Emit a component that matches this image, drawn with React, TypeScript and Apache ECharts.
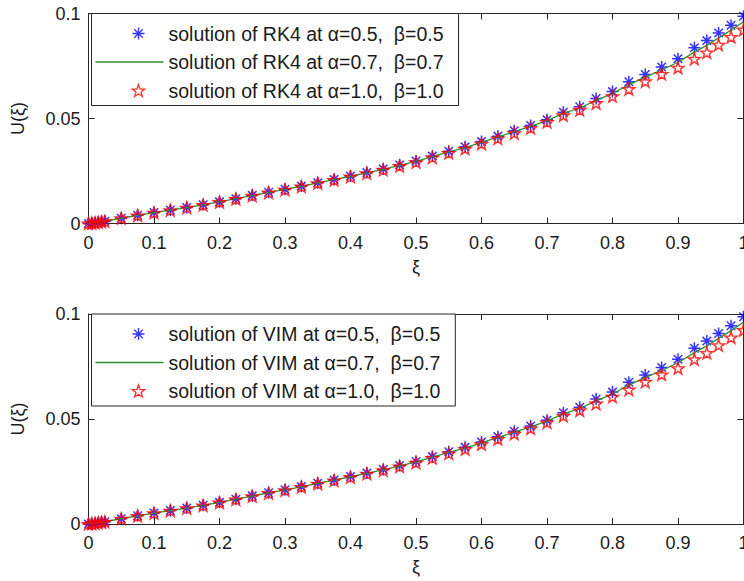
import React, { useEffect, useRef } from "react";
import * as echarts from "echarts";

// ---------- data ----------
const xiValues = [
  0, 0.005, 0.01, 0.015, 0.02, 0.025, 0.05, 0.075, 0.1, 0.125, 0.15, 0.175, 0.2,
  0.225, 0.25, 0.275, 0.3, 0.325, 0.35, 0.375, 0.4, 0.425, 0.45, 0.475, 0.5,
  0.525, 0.55, 0.575, 0.6, 0.625, 0.65, 0.675, 0.7, 0.725, 0.75, 0.775, 0.8,
  0.825, 0.85, 0.875, 0.9, 0.925, 0.944, 0.962, 0.981, 1.0,
];

const rk4Alpha05 = [
  0, 0.0002, 0.0004, 0.0006, 0.0008, 0.0011, 0.0025, 0.0039, 0.0052, 0.0064,
  0.0076, 0.0089, 0.0103, 0.0118, 0.0134, 0.0149, 0.0163, 0.0178, 0.0194,
  0.021, 0.0226, 0.0243, 0.026, 0.0279, 0.0298, 0.0321, 0.0344, 0.0365, 0.039,
  0.0416, 0.0442, 0.0467, 0.0494, 0.053, 0.0556, 0.0595, 0.0628, 0.0675, 0.071,
  0.0745, 0.0785, 0.0837, 0.0871, 0.0907, 0.0944, 0.0987,
];
const rk4Alpha07 = [
  0, 0.0002, 0.0004, 0.0006, 0.0008, 0.0011, 0.0025, 0.0039, 0.0052, 0.0064,
  0.0076, 0.0089, 0.0103, 0.0118, 0.0133, 0.0148, 0.0162, 0.0177, 0.0193,
  0.0209, 0.0225, 0.0241, 0.0258, 0.0277, 0.0296, 0.0318, 0.0341, 0.0361,
  0.0386, 0.0412, 0.0437, 0.0462, 0.049, 0.0524, 0.055, 0.0586, 0.0619, 0.0661,
  0.0697, 0.0731, 0.0768, 0.0816, 0.0848, 0.0884, 0.0921, 0.0961,
];
const rk4Alpha10 = [
  0, 0.0002, 0.0004, 0.0006, 0.0008, 0.0011, 0.0025, 0.0038, 0.0051, 0.0063,
  0.0075, 0.0088, 0.0102, 0.0117, 0.0132, 0.0147, 0.0161, 0.0176, 0.0192,
  0.0207, 0.0223, 0.0239, 0.0256, 0.0274, 0.0292, 0.0314, 0.0336, 0.0356,
  0.038, 0.0405, 0.043, 0.0455, 0.0483, 0.0515, 0.0541, 0.0573, 0.0606, 0.064,
  0.0677, 0.0712, 0.0742, 0.0784, 0.0814, 0.0851, 0.0888, 0.0923,
];

const vimAlpha05 = [
  0, 0.0002, 0.0004, 0.0006, 0.0008, 0.0011, 0.0025, 0.0039, 0.0052, 0.0064,
  0.0076, 0.0089, 0.0103, 0.0118, 0.0134, 0.0149, 0.0163, 0.0178, 0.0194,
  0.021, 0.0226, 0.0243, 0.026, 0.0279, 0.0298, 0.0321, 0.0344, 0.0365, 0.039,
  0.0416, 0.0442, 0.0467, 0.0494, 0.053, 0.0556, 0.0595, 0.0628, 0.0675, 0.071,
  0.0745, 0.0785, 0.0837, 0.0871, 0.0907, 0.0944, 0.0987,
];
const vimAlpha07 = [
  0, 0.0002, 0.0004, 0.0006, 0.0008, 0.0011, 0.0025, 0.0039, 0.0052, 0.0064,
  0.0076, 0.0089, 0.0103, 0.0118, 0.0133, 0.0148, 0.0162, 0.0177, 0.0193,
  0.0209, 0.0225, 0.0241, 0.0258, 0.0277, 0.0296, 0.0318, 0.0341, 0.0361,
  0.0386, 0.0412, 0.0437, 0.0462, 0.049, 0.0524, 0.055, 0.0586, 0.0619, 0.0661,
  0.0697, 0.0731, 0.0768, 0.0816, 0.0848, 0.0884, 0.0921, 0.0961,
];
const vimAlpha10 = [
  0, 0.0002, 0.0004, 0.0006, 0.0008, 0.0011, 0.0025, 0.0038, 0.0051, 0.0063,
  0.0075, 0.0088, 0.0102, 0.0117, 0.0132, 0.0147, 0.0161, 0.0176, 0.0192,
  0.0207, 0.0223, 0.0239, 0.0256, 0.0274, 0.0292, 0.0314, 0.0336, 0.0356,
  0.038, 0.0405, 0.043, 0.0455, 0.0483, 0.0515, 0.0541, 0.0573, 0.0606, 0.064,
  0.0677, 0.0712, 0.0742, 0.0784, 0.0814, 0.0851, 0.0888, 0.0923,
];

const rk4Names = [
  "solution of RK4 at α=0.5,  β=0.5",
  "solution of RK4 at α=0.7,  β=0.7",
  "solution of RK4 at α=1.0,  β=1.0",
];
const vimNames = [
  "solution of VIM at α=0.5,  β=0.5",
  "solution of VIM at α=0.7,  β=0.7",
  "solution of VIM at α=1.0,  β=1.0",
];

const xAxisName = "ξ";
const yAxisName = "U(ξ)";

// ---------- styling ----------
const FONT = '"Liberation Sans", Arial, Helvetica, sans-serif';
const AXIS_COLOR = "#262626";
const TEXT_COLOR = "#1a1a1a";
const BLUE = "#0000ff";
const GREEN = "#2f8f2f";
const RED = "#ff0000";
const FONT_SIZE = 18;
const LEGEND_FONT_SIZE = 19.5;

const ASTERISK = "M0,-10L0,10M-10,0L10,0M-7.07,-7.07L7.07,7.07M-7.07,7.07L7.07,-7.07";
const STAR =
  "M0,-10L2.351,-3.236L9.511,-3.09L3.804,1.236L5.878,8.09L0,4L-5.878,8.09L-3.804,1.236L-9.511,-3.09L-2.351,-3.236Z";
// legend icons: marker shifted right of the sample-line centre as in the reference
const ASTERISK_LEGEND = "M-40,0L-40,0" + ASTERISK;
const STAR_LEGEND = "M-36.66,0L-36.66,0" + STAR;
const LINE_LEGEND = "M0,0L68,0L68,1.3L0,1.3Z";

const pairs = (ys: number[]) => xiValues.map((x, i) => [x, ys[i]]);

function axesFor(gridIndex: number) {
  const common = {
    gridIndex,
    type: "value" as const,
    axisLine: { show: true, onZero: false, lineStyle: { color: AXIS_COLOR, width: 1 } },
    axisTick: { show: true, inside: true, length: 6, lineStyle: { color: AXIS_COLOR } },
    splitLine: { show: false },
  };
  const xAxes = [
    {
      ...common,
      position: "bottom",
      min: 0,
      max: 1,
      interval: 0.1,
      name: xAxisName,
      nameLocation: "middle",
      nameGap: 34,
      nameTextStyle: { fontFamily: FONT, fontSize: FONT_SIZE, color: TEXT_COLOR },
      axisLabel: {
        show: true,
        margin: 10,
        fontFamily: FONT,
        fontSize: FONT_SIZE,
        color: TEXT_COLOR,
        showMaxLabel: true,
        hideOverlap: false,
      },
    },
    {
      ...common,
      position: "top",
      min: 0,
      max: 1,
      interval: 0.1,
      axisLabel: { show: false },
    },
  ];
  const yAxes = [
    {
      ...common,
      position: "left",
      min: 0,
      max: 0.1,
      interval: 0.05,
      name: yAxisName,
      nameLocation: "middle",
      nameRotate: 90,
      nameGap: 62,
      nameTextStyle: { fontFamily: FONT, fontSize: FONT_SIZE, color: TEXT_COLOR },
      axisLabel: {
        show: true,
        margin: 8,
        fontFamily: FONT,
        fontSize: FONT_SIZE,
        color: TEXT_COLOR,
      },
    },
    {
      ...common,
      position: "right",
      min: 0,
      max: 0.1,
      interval: 0.05,
      axisLabel: { show: false },
    },
  ];
  return { xAxes, yAxes };
}

function seriesFor(
  names: string[],
  a05: number[],
  a07: number[],
  a10: number[],
  axisIndex: number
) {
  return [
    {
      type: "scatter",
      name: names[0],
      xAxisIndex: axisIndex,
      yAxisIndex: axisIndex,
      data: pairs(a05),
      symbol: "path://" + ASTERISK,
      symbolSize: 12,
      symbolKeepAspect: true,
      itemStyle: { color: "rgba(0,0,0,0)", borderColor: BLUE, borderWidth: 1.5 },
      z: 2,
    },
    {
      type: "line",
      name: names[1],
      xAxisIndex: axisIndex,
      yAxisIndex: axisIndex,
      data: pairs(a07),
      symbol: "none",
      showSymbol: false,
      symbolKeepAspect: true,
      lineStyle: { color: GREEN, width: 1.3 },
      itemStyle: { color: GREEN },
      z: 3,
    },
    {
      type: "scatter",
      name: names[2],
      xAxisIndex: axisIndex,
      yAxisIndex: axisIndex,
      data: pairs(a10),
      symbol: "path://" + STAR,
      symbolSize: 12,
      symbolKeepAspect: true,
      itemStyle: { color: "rgba(0,0,0,0)", borderColor: RED, borderWidth: 1.5 },
      z: 4,
    },
  ];
}

function legendFor(names: string[], top: number) {
  return {
    orient: "vertical",
    left: 91.5,
    top,
    selectedMode: false,
    backgroundColor: "#ffffff",
    borderColor: AXIS_COLOR,
    borderWidth: 1,
    borderRadius: 0,
    padding: [10, 15, 5, 4],
    itemGap: 8.5,
    itemWidth: 68,
    itemHeight: 12,
    textStyle: { fontFamily: FONT, fontSize: LEGEND_FONT_SIZE, color: TEXT_COLOR },
    z: 10,
    data: [
      {
        name: names[0],
        icon: "path://" + ASTERISK_LEGEND,
        itemStyle: { color: "rgba(0,0,0,0)", borderColor: BLUE, borderWidth: 1.3 },
      },
      {
        name: names[1],
        icon: "path://" + LINE_LEGEND,
        itemStyle: { color: GREEN, borderWidth: 0 },
      },
      {
        name: names[2],
        icon: "path://" + STAR_LEGEND,
        itemStyle: { color: "rgba(0,0,0,0)", borderColor: RED, borderWidth: 1.3 },
      },
    ],
  };
}

export default function App() {
  const ref = useRef<HTMLDivElement>(null);

  useEffect(() => {
    if (!ref.current) return;
    const chart = echarts.init(ref.current, undefined, { renderer: "svg" });
    const top = axesFor(0);
    const bottom = axesFor(1);
    const option = {
      animation: false,
      backgroundColor: "#ffffff",
      textStyle: { fontFamily: FONT },
      grid: [
        {
          left: 88.5,
          top: 13.5,
          width: 655,
          height: 210,
          containLabel: false,
          outerBoundsMode: "none",
        },
        {
          left: 88.5,
          top: 314,
          width: 655,
          height: 210,
          containLabel: false,
          outerBoundsMode: "none",
        },
      ],
      xAxis: [...top.xAxes, ...bottom.xAxes],
      yAxis: [...top.yAxes, ...bottom.yAxes],
      legend: [legendFor(rk4Names, 13.5), legendFor(vimNames, 314)],
      series: [
        ...seriesFor(rk4Names, rk4Alpha05, rk4Alpha07, rk4Alpha10, 0),
        ...seriesFor(vimNames, vimAlpha05, vimAlpha07, vimAlpha10, 2),
      ],
    };
    chart.setOption(option as any);
    return () => chart.dispose();
  }, []);

  return (
    <div
      ref={ref}
      style={{ position: "absolute", left: 0, top: 0, width: 744, height: 581, background: "#fff" }}
    />
  );
}
